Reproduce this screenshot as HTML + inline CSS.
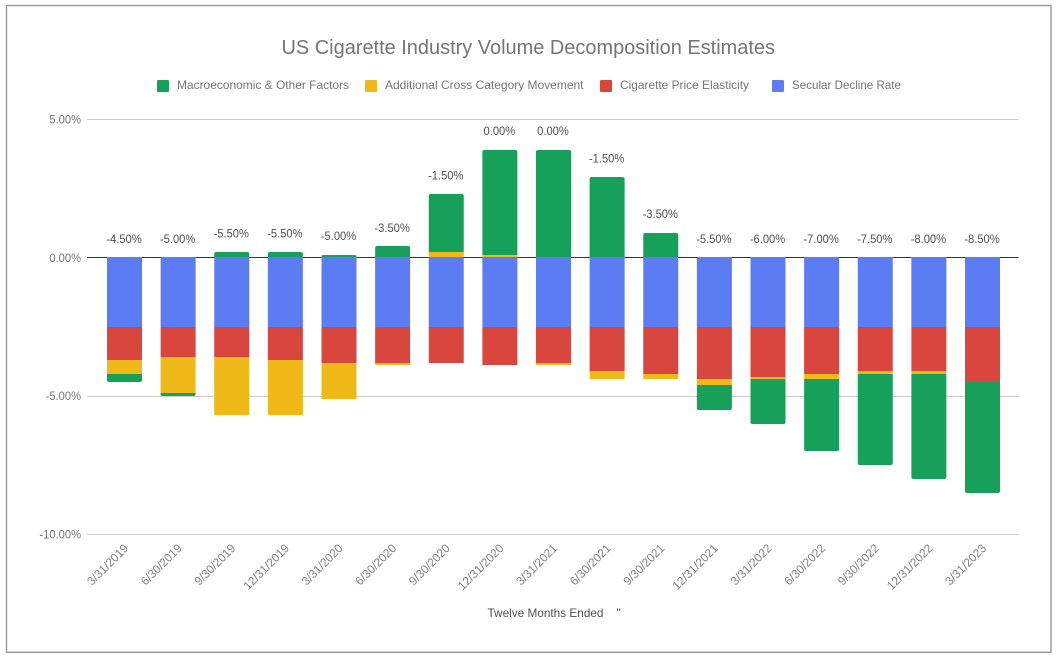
<!DOCTYPE html>
<html lang="en">
<head>
<meta charset="utf-8">
<title>US Cigarette Industry Volume Decomposition Estimates</title>
<style>
html,body{margin:0;padding:0;background:#fff;}
svg{display:block;font-family:"Liberation Sans",sans-serif;}
</style>
</head>
<body>
<svg id="chart" xmlns="http://www.w3.org/2000/svg" width="1058" height="660" viewBox="0 0 1058 660">
  <rect x="0" y="0" width="1058" height="660" fill="#ffffff"/>
  <rect x="6.5" y="5.5" width="1044.5" height="646.8" fill="none" stroke="#999999" stroke-width="1.4"/>
  <text x="281.5" y="54" font-size="20" fill="#757575" textLength="493.5" lengthAdjust="spacingAndGlyphs">US Cigarette Industry Volume Decomposition Estimates</text>

  <g font-size="12" fill="#757575">
    <g>
      <rect x="157" y="80" width="12" height="12" rx="1" fill="#16a05a"/>
      <text x="177" y="89" textLength="172" lengthAdjust="spacingAndGlyphs">Macroeconomic &amp; Other Factors</text>
    </g>
    <g>
      <rect x="365" y="80" width="12" height="12" rx="1" fill="#efb918"/>
      <text x="385" y="89" textLength="198.5" lengthAdjust="spacingAndGlyphs">Additional Cross Category Movement</text>
    </g>
    <g>
      <rect x="600" y="80" width="12" height="12" rx="1" fill="#d8463d"/>
      <text x="620" y="89" textLength="129" lengthAdjust="spacingAndGlyphs">Cigarette Price Elasticity</text>
    </g>
    <g>
      <rect x="772" y="80" width="12" height="12" rx="1" fill="#5b7cf3"/>
      <text x="792" y="89" textLength="109" lengthAdjust="spacingAndGlyphs">Secular Decline Rate</text>
    </g>
  </g>

  <g id="grid"></g>
  <g id="yticks" font-size="12" fill="#757575"></g>
  <g id="bars"></g>
  <g id="totals" font-size="12" fill="#505050"></g>
  <g id="xticks" font-size="12" fill="#808080"></g>

  <text x="487.5" y="617" font-size="12" fill="#505050" textLength="116" lengthAdjust="spacingAndGlyphs">Twelve Months Ended</text>
  <text x="616.5" y="617" font-size="12" fill="#505050">"</text>
</svg>

<script>
var categories = ["3/31/2019","6/30/2019","9/30/2019","12/31/2019","3/31/2020","6/30/2020","9/30/2020","12/31/2020","3/31/2021","6/30/2021","9/30/2021","12/31/2021","3/31/2022","6/30/2022","9/30/2022","12/31/2022","3/31/2023"];
var secularDecline = [-2.5,-2.5,-2.5,-2.5,-2.5,-2.5,-2.5,-2.5,-2.5,-2.5,-2.5,-2.5,-2.5,-2.5,-2.5,-2.5,-2.5];
var priceElasticity = [-1.2,-1.1,-1.1,-1.2,-1.3,-1.3,-1.3,-1.4,-1.3,-1.6,-1.7,-1.9,-1.8,-1.7,-1.6,-1.6,-2.0];
var crossCategory = [-0.5,-1.3,-2.1,-2.0,-1.3,-0.1,0.2,0.1,-0.1,-0.3,-0.2,-0.2,-0.1,-0.2,-0.1,-0.1,0];
var macroFactors = [-0.3,-0.1,0.2,0.2,0.1,0.4,2.1,3.8,3.9,2.9,0.9,-0.9,-1.6,-2.6,-3.3,-3.8,-4.0];
var totalLabels = [-4.5,-5.0,-5.5,-5.5,-5.0,-3.5,-1.5,0,0,-1.5,-3.5,-5.5,-6.0,-7.0,-7.5,-8.0,-8.5];
var yTicks = [5,0,-5,-10];

var SVGNS = "http://www.w3.org/2000/svg";
var stackOrder = [
  {key: "secular-decline", values: secularDecline, color: "#5b7cf3", rounded: false},
  {key: "price-elasticity", values: priceElasticity, color: "#d8463d", rounded: false},
  {key: "cross-category", values: crossCategory, color: "#efb918", rounded: false},
  {key: "macroeconomic", values: macroFactors, color: "#16a05a", rounded: true}
];

function yScale(v) { return 257.48 - v * 27.68; }
function xBand(i) { return 107 + i * 53.625; }
var barWidth = 35;

function condense(t, ratio) {
  t.setAttribute("textLength", (t.getComputedTextLength() * ratio).toFixed(2));
  t.setAttribute("lengthAdjust", "spacingAndGlyphs");
}
function pct(v) { return v.toFixed(2) + "%"; }

var gridG = document.getElementById("grid");
var ytG = document.getElementById("yticks");
yTicks.forEach(function (v) {
  var y = Math.round(yScale(v)) + 0.5;
  var line = document.createElementNS(SVGNS, "line");
  
  
  line.setAttribute("x1", 87);
  line.setAttribute("x2", 1018.5);
  line.setAttribute("y1", y);
  line.setAttribute("y2", y);
  line.setAttribute("stroke", v === 0 ? "#333333" : "#cccccc");
  line.setAttribute("stroke-width", 1);
  gridG.appendChild(line);

  var t = document.createElementNS(SVGNS, "text");
  
  
  t.setAttribute("x", 81);
  t.setAttribute("y", yScale(v) + 4.3);
  t.setAttribute("text-anchor", "end");
  t.textContent = pct(v);
  ytG.appendChild(t);
  condense(t, 0.93);
});

var barsG = document.getElementById("bars");
var totalsG = document.getElementById("totals");
var xtG = document.getElementById("xticks");

function segmentPath(x, w, yA, yB, corner) {
  var top = Math.min(yA, yB), bot = Math.max(yA, yB), r = 2;
  if (corner === "top") {
    return "M" + x + " " + bot + "V" + (top + r) + "Q" + x + " " + top + " " + (x + r) + " " + top +
      "H" + (x + w - r) + "Q" + (x + w) + " " + top + " " + (x + w) + " " + (top + r) + "V" + bot + "Z";
  }
  if (corner === "bottom") {
    return "M" + x + " " + top + "V" + (bot - r) + "Q" + x + " " + bot + " " + (x + r) + " " + bot +
      "H" + (x + w - r) + "Q" + (x + w) + " " + bot + " " + (x + w) + " " + (bot - r) + "V" + top + "Z";
  }
  return "M" + x + " " + top + "H" + (x + w) + "V" + bot + "H" + x + "Z";
}

categories.forEach(function (cat, i) {
  var pos = 0, neg = 0;
  var x = xBand(i);
  stackOrder.forEach(function (s) {
    var v = s.values[i];
    if (!v) return;
    var from, to;
    if (v > 0) { from = pos; to = pos + v; pos = to; }
    else { from = neg; to = neg + v; neg = to; }
    var yA = Math.round(yScale(from));
    var yB = Math.round(yScale(to));
    var corner = s.rounded ? (v > 0 ? "top" : "bottom") : "";
    var p = document.createElementNS(SVGNS, "path");
    
    
    p.setAttribute("d", segmentPath(x, barWidth, yA, yB, corner));
    p.setAttribute("fill", s.color);
    barsG.appendChild(p);
  });

  var label = document.createElementNS(SVGNS, "text");
  
  
  label.setAttribute("x", x + barWidth / 2 - 0.5);
  label.setAttribute("y", yScale(pos) - 14.5);
  label.setAttribute("text-anchor", "middle");
  label.textContent = pct(totalLabels[i]);
  totalsG.appendChild(label);
  condense(label, 0.93);

  var tick = document.createElementNS(SVGNS, "text");
  var px = x + barWidth / 2 + 4.5;
  
  
  tick.setAttribute("text-anchor", "end");
  tick.setAttribute("transform", "translate(" + px + " 549) rotate(-45)");
  tick.textContent = cat;
  xtG.appendChild(tick);
  condense(tick, 0.98);
});
</script>
</body>
</html>
